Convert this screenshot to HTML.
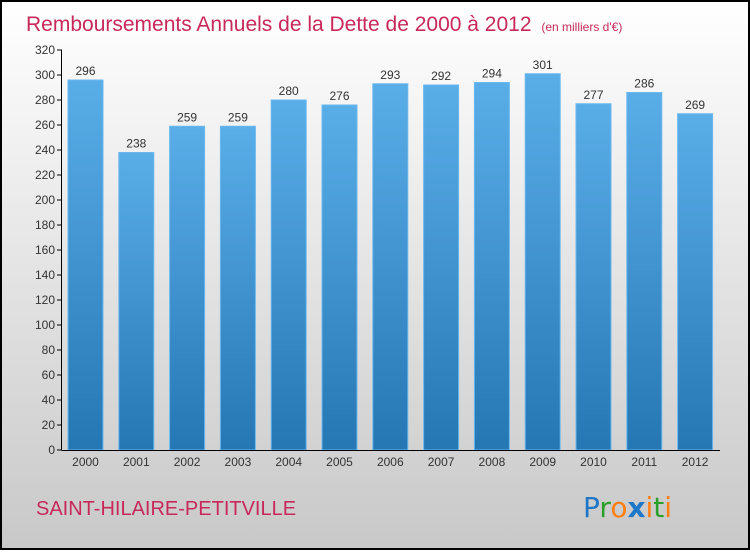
<!DOCTYPE html>
<html><head><meta charset="utf-8"><style>
body{margin:0;width:750px;height:550px;overflow:hidden;font-family:"Liberation Sans",sans-serif}
</style></head><body>
<svg width="750" height="550" xmlns="http://www.w3.org/2000/svg">
<defs>
<linearGradient id="bg" x1="0" y1="0" x2="0" y2="1"><stop offset="0" stop-color="#ffffff"/><stop offset="1" stop-color="#c8c8c8"/></linearGradient>
<linearGradient id="bar" x1="0" y1="0" x2="0" y2="1"><stop offset="0" stop-color="#5aaee8"/><stop offset="1" stop-color="#2577b4"/></linearGradient>
</defs>
<rect x="1" y="1" width="748" height="548" fill="url(#bg)" stroke="#000" stroke-width="2"/>
<text x="26" y="31" font-size="21" fill="#c8285a">Remboursements Annuels de la Dette de 2000 à 2012 <tspan font-size="12" dx="4">(en milliers d'€)</tspan></text>
<g id="plot"></g>
<text x="36" y="515" font-size="20" fill="#c8285a">SAINT-HILAIRE-PETITVILLE</text>
<text x="583" y="517" font-size="28" font-family="'DejaVu Sans',sans-serif"><tspan fill="#1f77c8">P</tspan><tspan fill="#2aa02a">r</tspan><tspan fill="#ff7f0e">o</tspan><tspan fill="#1f77c8" font-weight="bold">x</tspan><tspan fill="#ff7f0e">i</tspan><tspan fill="#2aa02a">t</tspan><tspan fill="#ff7f0e">i</tspan></text>
</svg>
<script>
const categories=["2000","2001","2002","2003","2004","2005","2006","2007","2008","2009","2010","2011","2012"];
const values=[296,238,259,259,280,276,293,292,294,301,277,286,269];
const yTicks=[0,20,40,60,80,100,120,140,160,180,200,220,240,260,280,300,320];
const NS="http://www.w3.org/2000/svg";
const g=document.getElementById('plot');
const y=v=>450-v*1.25;
const x=i=>85.5+i*50.8;
function mk(t,a,txt){const e=document.createElementNS(NS,t);for(const k in a)e.setAttribute(k,a[k]);if(txt!==undefined)e.textContent=txt;g.appendChild(e);return e;}
yTicks.forEach(v=>{
 const l=mk('line',{x1:57,x2:62,y1:y(v),y2:y(v),stroke:'#000'});
 
 
 const t=mk('text',{x:55,y:y(v)+4,'font-size':12,'text-anchor':'end',fill:'#333'},v);
 
 
});
values.forEach((v,i)=>{
 const r=mk('rect',{x:x(i)-17.5,y:y(v),width:35,height:450-y(v),fill:'url(#bar)',stroke:'#6ab8ee','stroke-width':1});
 
 
 const t=mk('text',{x:x(i),y:y(v)-5,'font-size':12,'text-anchor':'middle',fill:'#333'},v);
 
 
 const c=mk('text',{x:x(i),y:466,'font-size':12,'text-anchor':'middle',fill:'#333'},categories[i]);
 
 
});
const ya=mk('line',{x1:61.5,x2:61.5,y1:y(320),y2:450,stroke:'#000'});


const xa=mk('line',{x1:61.5,x2:720,y1:450.5,y2:450.5,stroke:'#000'});


</script>
</body></html>
